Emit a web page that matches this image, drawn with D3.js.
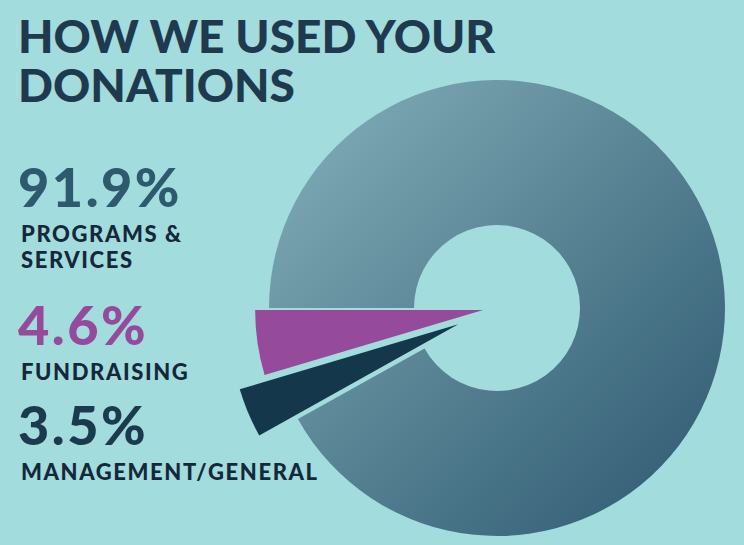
<!DOCTYPE html>
<html><head><meta charset="utf-8">
<script src="https://cdn.jsdelivr.net/npm/d3@7"></script>
<style>body{margin:0;background:#a2dcdc}text{font-family:Lato,"Open Sans",sans-serif;font-weight:900}</style>
</head><body>
<script>
const categories = ['PROGRAMS & SERVICES', 'MANAGEMENT/GENERAL', 'FUNDRAISING'];
const values = [91.9, 3.5, 4.6];
const labels = [['91.9%', ['PROGRAMS &', 'SERVICES']], ['4.6%', ['FUNDRAISING']], ['3.5%', ['MANAGEMENT/GENERAL']]];

const W = 744, H = 545;
const cx = 497, cy = 308, rOut = 228, rIn = 83;
const svg = d3.select('body').append('svg').attr('width', W).attr('height', H);

const defs = svg.append('defs');
const g1 = defs.append('linearGradient').attr('id', 'main').attr('x1', '0%').attr('y1', '0%').attr('x2', '100%').attr('y2', '100%');
g1.append('stop').attr('offset', '0%').attr('stop-color', '#86b2bd');
g1.append('stop').attr('offset', '45%').attr('stop-color', '#5b8797');
g1.append('stop').attr('offset', '100%').attr('stop-color', '#2c5770');

const pie = d3.pie().sort(null).startAngle(1.5 * Math.PI).endAngle(3.5 * Math.PI);
const arcs = pie(values);
const fills = ['url(#main)', '#15374b', '#964a9c'];
const offsets = [0, 42, 14];

arcs.forEach((a, i) => {
    const mid = (a.startAngle + a.endAngle) / 2;
    const dx = Math.sin(mid) * offsets[i], dy = -Math.cos(mid) * offsets[i];
    const arc = d3.arc().innerRadius(i === 0 ? rIn : 0).outerRadius(rOut);
    svg.append('path').attr('d', arc(a)).attr('fill', fills[i])
        .attr('transform', `translate(${cx + dx},${cy + dy})`);
});

svg.append('text').attr('x', 18).attr('y', 53).attr('font-size', 46).attr('fill', '#1f3a4f').text('HOW WE USED YOUR');
svg.append('text').attr('x', 18).attr('y', 102).attr('font-size', 46).attr('fill', '#1f3a4f').text('DONATIONS');

const pctColors = ['#2e5a70', '#964a9c', '#1b3a4e'];
const pctY = [207, 345, 445];
labels.forEach((l, i) => {
    svg.append('text').attr('x', 18).attr('y', pctY[i]).attr('font-size', 54)
        .attr('letter-spacing', 2.5).attr('fill', pctColors[i]).text(l[0]);
    l[1].forEach((t, j) => {
        svg.append('text').attr('x', 21).attr('y', pctY[i] + 35 + j * 26).attr('font-size', 22)
            .attr('letter-spacing', 1.6).attr('fill', '#15283a').text(t);
    });
});
</script>
</body></html>
